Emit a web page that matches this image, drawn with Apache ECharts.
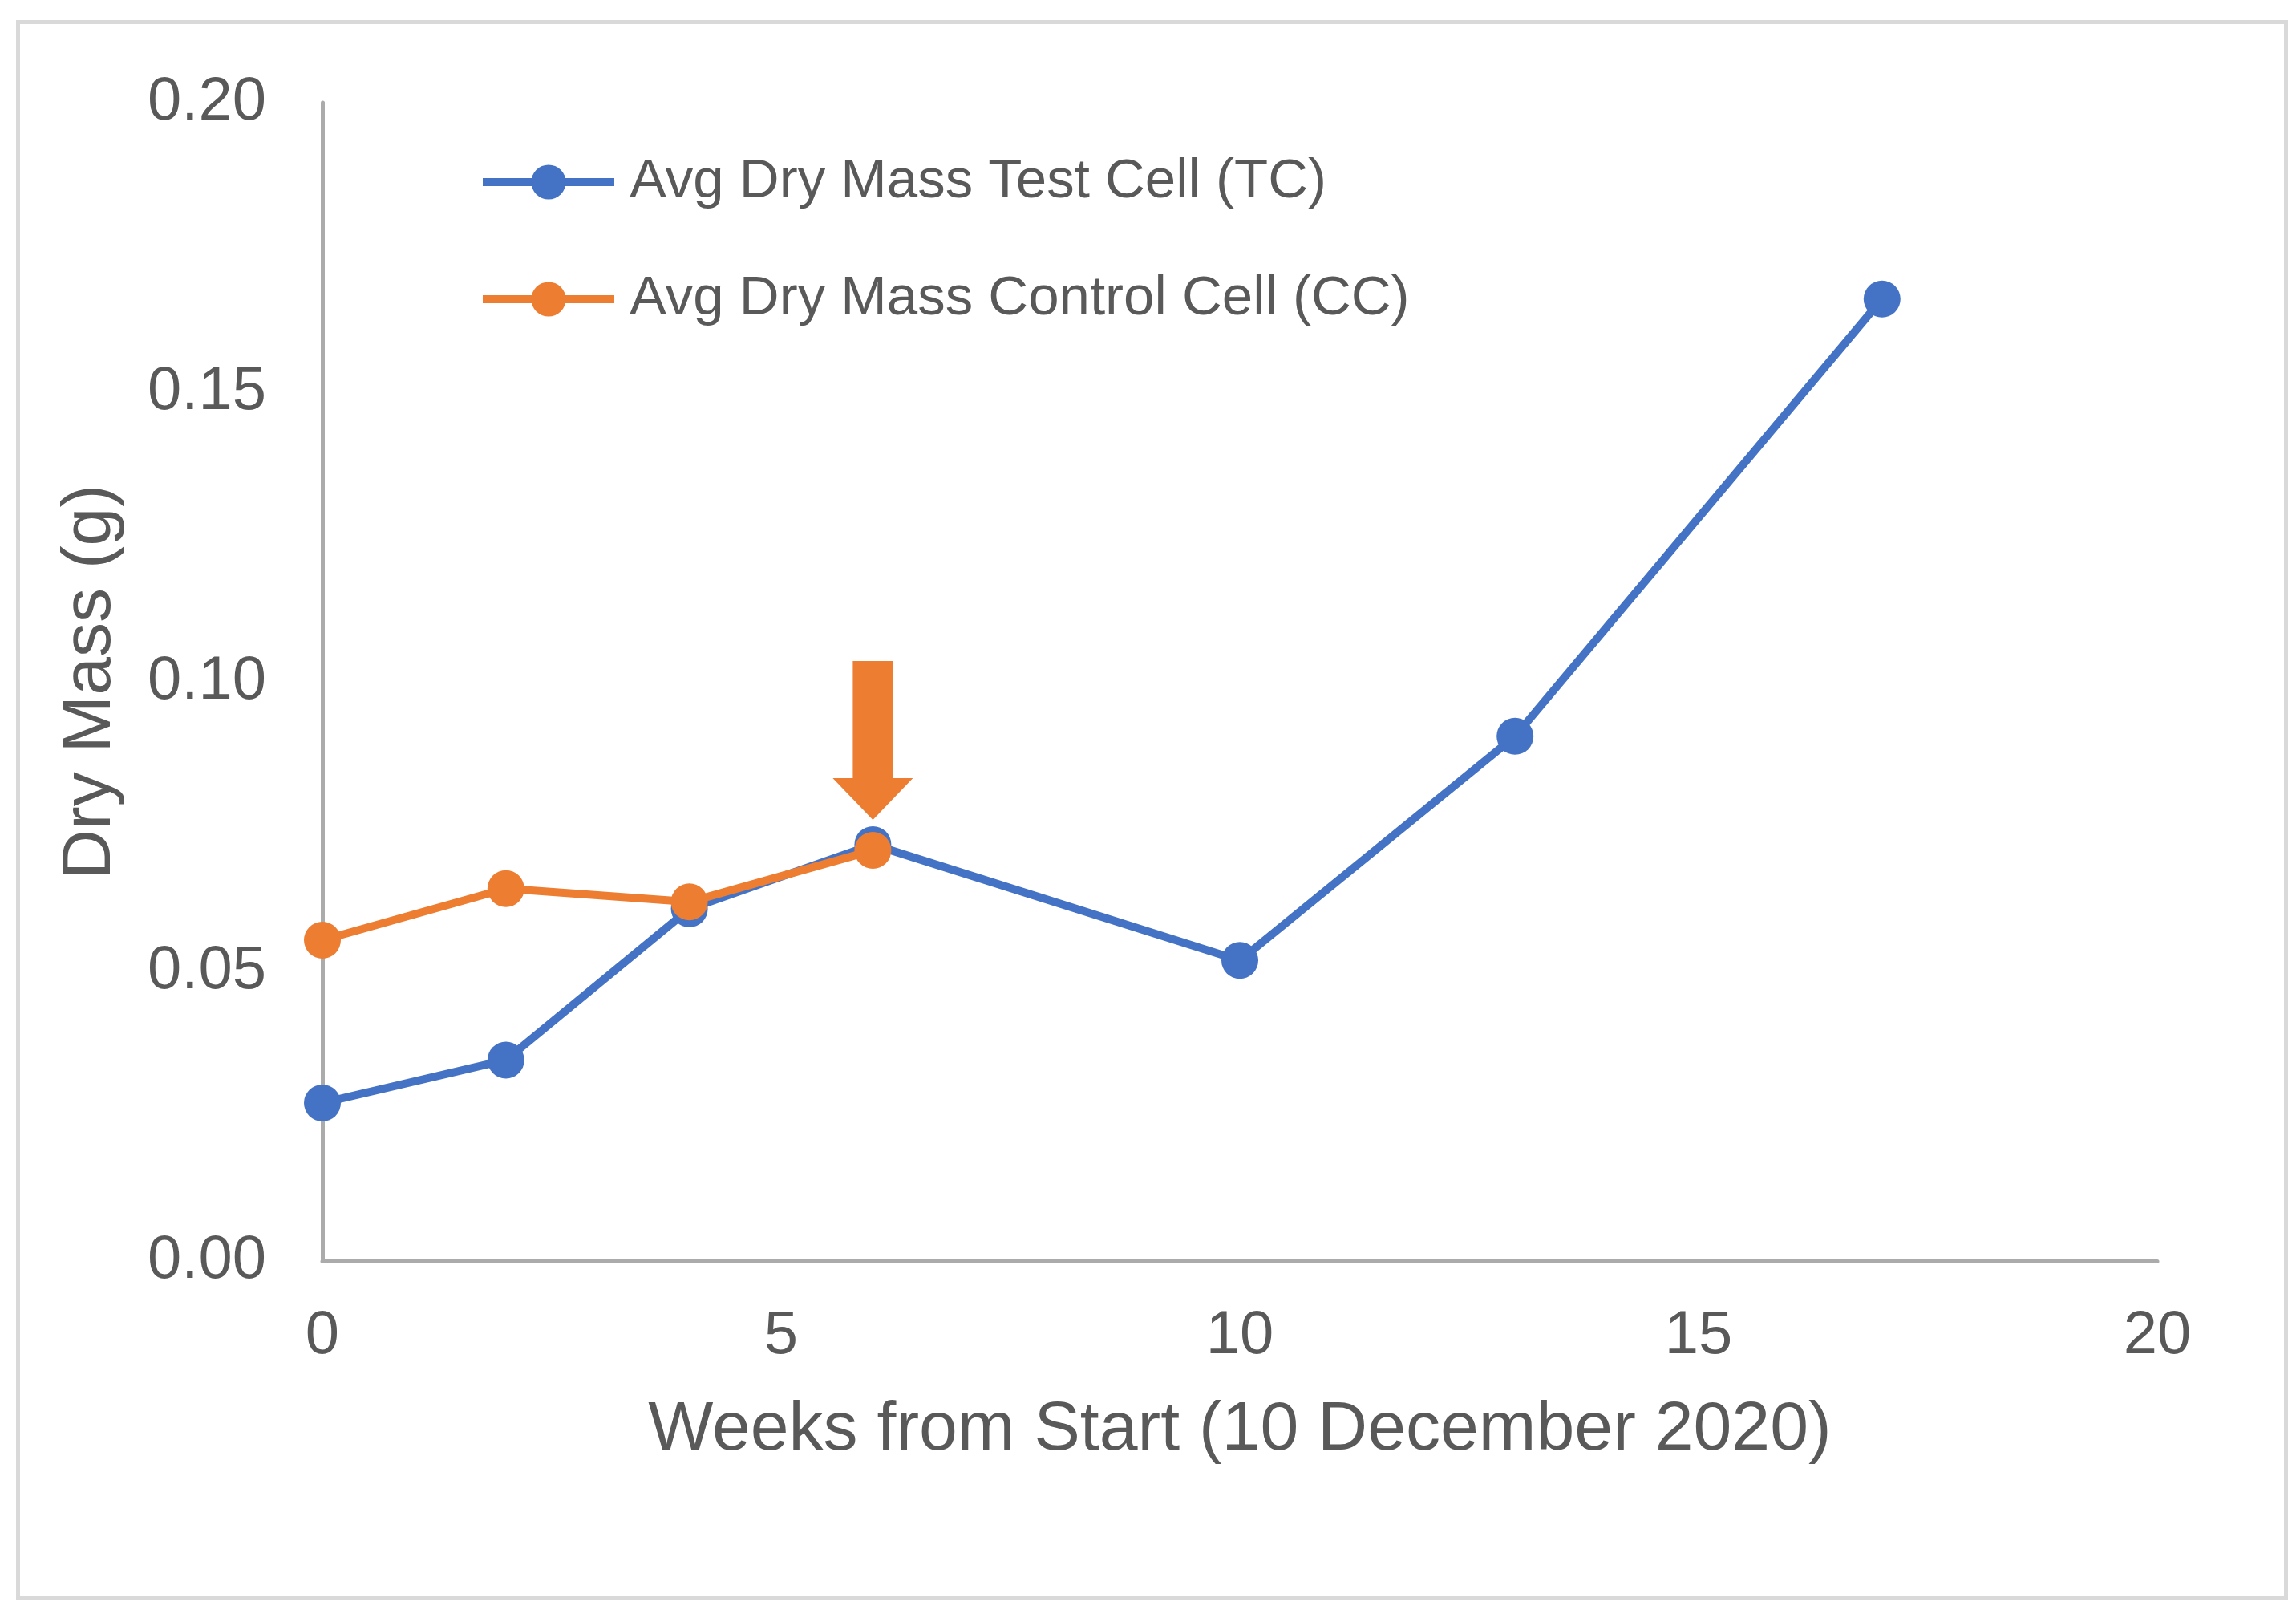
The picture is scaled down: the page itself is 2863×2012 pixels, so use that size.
<!DOCTYPE html>
<html><head><meta charset="utf-8">
<script src="https://cdn.jsdelivr.net/npm/echarts@6/dist/echarts.min.js"></script>
<style>html,body{margin:0;padding:0;background:#fff}#c{width:2863px;height:2012px}</style>
</head><body><div id="c"></div>
<script>
const tcWeeks = [0, 2, 4, 6, 10, 13, 17];
const tcMass  = [0.0273, 0.0347, 0.0608, 0.0719, 0.0519, 0.0906, 0.1661];
const ccWeeks = [0, 2, 4, 6];
const ccMass  = [0.0554, 0.0643, 0.0620, 0.0709];
const seriesNames = ['Avg Dry Mass Test Cell (TC)', 'Avg Dry Mass Control Cell (CC)'];
const xTitle = 'Weeks from Start (10 December 2020)';
const yTitle = 'Dry Mass (g)';
const arrowIndex = 3;

const FONT = '"Liberation Sans", Arial, sans-serif';
const TXT = '#595959';
const chart = echarts.init(document.getElementById('c'));
chart.setOption({
  backgroundColor: '#fff',
  animation: false,
  graphic: [{
    type: 'rect', left: 20, top: 25, silent: true,
    shape: { width: 2828, height: 1964 },
    style: { fill: 'none', stroke: '#d9d9d9', lineWidth: 5 }
  }],
  grid: { left: 402, right: 173, top: 128, bottom: 440, containLabel: false },
  legend: {
    orient: 'vertical', left: 592, top: 182,
    itemWidth: 164, itemHeight: 54, itemGap: 66,
    data: seriesNames,
    lineStyle: { width: 10 },
    textStyle: { fontFamily: FONT, fontSize: 69, color: TXT, lineHeight: 80, padding: [0, 0, 0, 14] }
  },
  xAxis: {
    type: 'value', min: 0, max: 20, interval: 5,
    name: xTitle, nameLocation: 'middle', nameGap: 168,
    nameTextStyle: { fontFamily: FONT, fontSize: 86, color: TXT },
    axisLine: { show: true, onZero: false, lineStyle: { color: '#ababab', width: 5 } },
    axisTick: { show: false },
    splitLine: { show: false },
    axisLabel: { fontFamily: FONT, fontSize: 76, color: TXT, margin: 56 }
  },
  yAxis: {
    type: 'value', min: 0, max: 0.2, interval: 0.05,
    name: yTitle, nameLocation: 'middle', nameGap: 246,
    nameTextStyle: { fontFamily: FONT, fontSize: 86, color: TXT },
    axisLine: { show: true, lineStyle: { color: '#ababab', width: 5 } },
    axisTick: { show: false },
    splitLine: { show: false },
    axisLabel: { fontFamily: FONT, fontSize: 76, color: TXT, margin: 70,
      formatter: v => v.toFixed(2) }
  },
  series: [
    {
      name: seriesNames[0], type: 'line',
      data: tcWeeks.map((w, i) => [w, tcMass[i]]),
      symbol: 'circle', symbolSize: 46,
      lineStyle: { color: '#4472C4', width: 10 },
      itemStyle: { color: '#4472C4' }
    },
    {
      name: seriesNames[1], type: 'line',
      data: ccWeeks.map((w, i) => [w, ccMass[i]]),
      symbol: 'circle', symbolSize: 46,
      lineStyle: { color: '#ED7D31', width: 10 },
      itemStyle: { color: '#ED7D31' },
      markPoint: {
        silent: true,
        symbol: 'path://M25,0 L75,0 L75,146 L100,146 L50,198 L0,146 L25,146 Z',
        symbolSize: [100, 198],
        symbolOffset: [0, -137],
        itemStyle: { color: '#ED7D31' },
        label: { show: false },
        data: [{ coord: [ccWeeks[arrowIndex], ccMass[arrowIndex]] }]
      }
    }
  ]
});
</script></body></html>
